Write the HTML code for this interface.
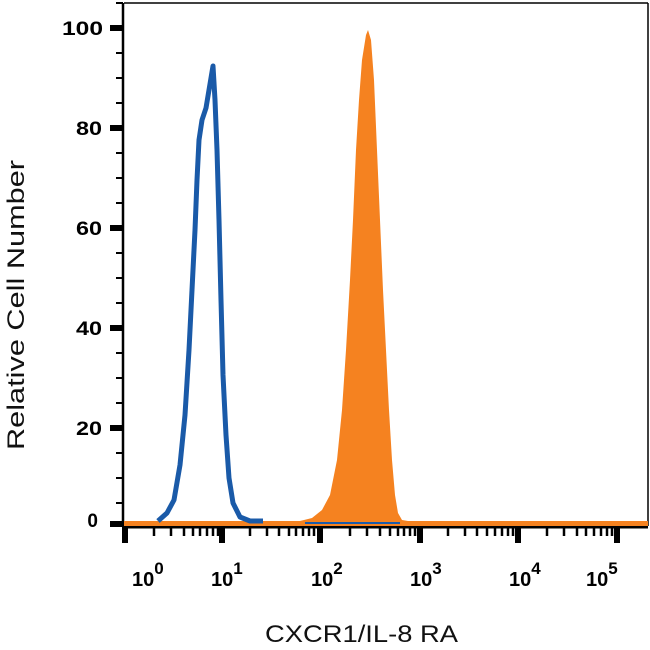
<!DOCTYPE html><html><head><style>body{margin:0;background:#fff}svg{display:block}</style></head><body>
<svg width="650" height="650" viewBox="0 0 650 650" font-family="Liberation Sans, sans-serif">
<rect width="650" height="650" fill="#fff"/>
<line x1="124" y1="3" x2="648" y2="3" stroke="#000" stroke-width="1.5"/>
<line x1="648" y1="3" x2="648" y2="526" stroke="#000" stroke-width="1.5"/>
<line x1="123" y1="3" x2="123" y2="526" stroke="#000" stroke-width="2.5"/>
<g stroke="#000">
<g stroke-width="6"><line x1="110" y1="28" x2="123" y2="28"/><line x1="110" y1="128" x2="123" y2="128"/><line x1="110" y1="228" x2="123" y2="228"/><line x1="110" y1="328" x2="123" y2="328"/><line x1="110" y1="428" x2="123" y2="428"/><line x1="110" y1="524" x2="123" y2="524"/></g>
<g stroke-width="2"><line x1="116" y1="3" x2="123" y2="3"/><line x1="116" y1="53" x2="123" y2="53"/><line x1="116" y1="78" x2="123" y2="78"/><line x1="116" y1="103" x2="123" y2="103"/><line x1="116" y1="153" x2="123" y2="153"/><line x1="116" y1="178" x2="123" y2="178"/><line x1="116" y1="203" x2="123" y2="203"/><line x1="116" y1="253" x2="123" y2="253"/><line x1="116" y1="278" x2="123" y2="278"/><line x1="116" y1="303" x2="123" y2="303"/><line x1="116" y1="353" x2="123" y2="353"/><line x1="116" y1="378" x2="123" y2="378"/><line x1="116" y1="403" x2="123" y2="403"/><line x1="116" y1="453" x2="123" y2="453"/><line x1="116" y1="478" x2="123" y2="478"/><line x1="116" y1="503" x2="123" y2="503"/></g>
</g>
<line x1="122" y1="527" x2="648" y2="527" stroke="#000" stroke-width="3"/>
<g stroke="#000">
<g stroke-width="6"><line x1="125" y1="527" x2="125" y2="543"/><line x1="222" y1="527" x2="222" y2="543"/><line x1="320" y1="527" x2="320" y2="543"/><line x1="420" y1="527" x2="420" y2="543"/><line x1="518" y1="527" x2="518" y2="543"/><line x1="617" y1="527" x2="617" y2="543"/></g>
<g stroke-width="2.5">
<line x1="154" y1="527" x2="154" y2="536"/><line x1="171" y1="527" x2="171" y2="536"/><line x1="184" y1="527" x2="184" y2="536"/><line x1="193" y1="527" x2="193" y2="536"/><line x1="200" y1="527" x2="200" y2="536"/><line x1="207" y1="527" x2="207" y2="536"/><line x1="213" y1="527" x2="213" y2="536"/><line x1="218" y1="527" x2="218" y2="536"/>
<line x1="250" y1="527" x2="250" y2="536"/><line x1="267" y1="527" x2="267" y2="536"/><line x1="279" y1="527" x2="279" y2="536"/><line x1="289" y1="527" x2="289" y2="536"/><line x1="296" y1="527" x2="296" y2="536"/><line x1="303" y1="527" x2="303" y2="536"/><line x1="309" y1="527" x2="309" y2="536"/><line x1="314" y1="527" x2="314" y2="536"/>
<line x1="350" y1="527" x2="350" y2="536"/><line x1="367" y1="527" x2="367" y2="536"/><line x1="380" y1="527" x2="380" y2="536"/><line x1="390" y1="527" x2="390" y2="536"/><line x1="398" y1="527" x2="398" y2="536"/><line x1="404" y1="527" x2="404" y2="536"/><line x1="410" y1="527" x2="410" y2="536"/><line x1="415" y1="527" x2="415" y2="536"/>
<line x1="448" y1="527" x2="448" y2="536"/><line x1="465" y1="527" x2="465" y2="536"/><line x1="477" y1="527" x2="477" y2="536"/><line x1="487" y1="527" x2="487" y2="536"/><line x1="495" y1="527" x2="495" y2="536"/><line x1="502" y1="527" x2="502" y2="536"/><line x1="508" y1="527" x2="508" y2="536"/><line x1="513" y1="527" x2="513" y2="536"/>
<line x1="547" y1="527" x2="547" y2="536"/><line x1="564" y1="527" x2="564" y2="536"/><line x1="577" y1="527" x2="577" y2="536"/><line x1="586" y1="527" x2="586" y2="536"/><line x1="594" y1="527" x2="594" y2="536"/><line x1="601" y1="527" x2="601" y2="536"/><line x1="607" y1="527" x2="607" y2="536"/><line x1="612" y1="527" x2="612" y2="536"/>
</g></g>
<path d="M124,521 L648,521 L648,526 L124,526Z" fill="#f58220"/>
<path d="M300,521 L312,518 L322,510 L330,495 L337,460 L342,410 L346,350 L350,280 L353,220 L356,150 L359,100 L362,60 L366,35 L368,30 L371,40 L374,80 L377,150 L380,220 L383,290 L386,350 L389,410 L392,460 L395,495 L398,513 L402,520 L408,521Z" fill="#f58220"/>
<polyline points="158,521 167,513 174,500 180,465 185,415 189,350 192,290 195,230 197,180 199,140 202,120 206,108 213,66 215,100 217,150 219,220 221,300 223,375 226,435 229,478 233,503 240,517 250,521 263,521" fill="none" stroke="#1a5aa8" stroke-width="5" stroke-linejoin="round"/>
<line x1="305" y1="523" x2="400" y2="523" stroke="#1a5aa8" stroke-width="2"/>
<g font-size="19" font-weight="bold" text-anchor="end" fill="#000">
<text x="103" y="35" textLength="41" lengthAdjust="spacingAndGlyphs">100</text><text x="102" y="135" textLength="26" lengthAdjust="spacingAndGlyphs">80</text><text x="102" y="235" textLength="26" lengthAdjust="spacingAndGlyphs">60</text><text x="102" y="335" textLength="26" lengthAdjust="spacingAndGlyphs">40</text><text x="102" y="435" textLength="26" lengthAdjust="spacingAndGlyphs">20</text><text x="98" y="527">0</text></g>
<g font-size="20" font-weight="bold" fill="#000">
<text x="132" y="586">10<tspan dy="-12" font-size="17">0</tspan></text>
<text x="211" y="586">10<tspan dy="-12" font-size="17">1</tspan></text>
<text x="311" y="586">10<tspan dy="-12" font-size="17">2</tspan></text>
<text x="410" y="586">10<tspan dy="-12" font-size="17">3</tspan></text>
<text x="509" y="586">10<tspan dy="-12" font-size="17">4</tspan></text>
<text x="586" y="586">10<tspan dy="-12" font-size="17">5</tspan></text></g>
<text x="265" y="642" font-size="24" textLength="193" lengthAdjust="spacingAndGlyphs" fill="#111">CXCR1/IL-8 RA</text>
<text transform="translate(24,450) rotate(-90)" font-size="24" textLength="290" lengthAdjust="spacingAndGlyphs" fill="#111">Relative Cell Number</text>
</svg></body></html>
